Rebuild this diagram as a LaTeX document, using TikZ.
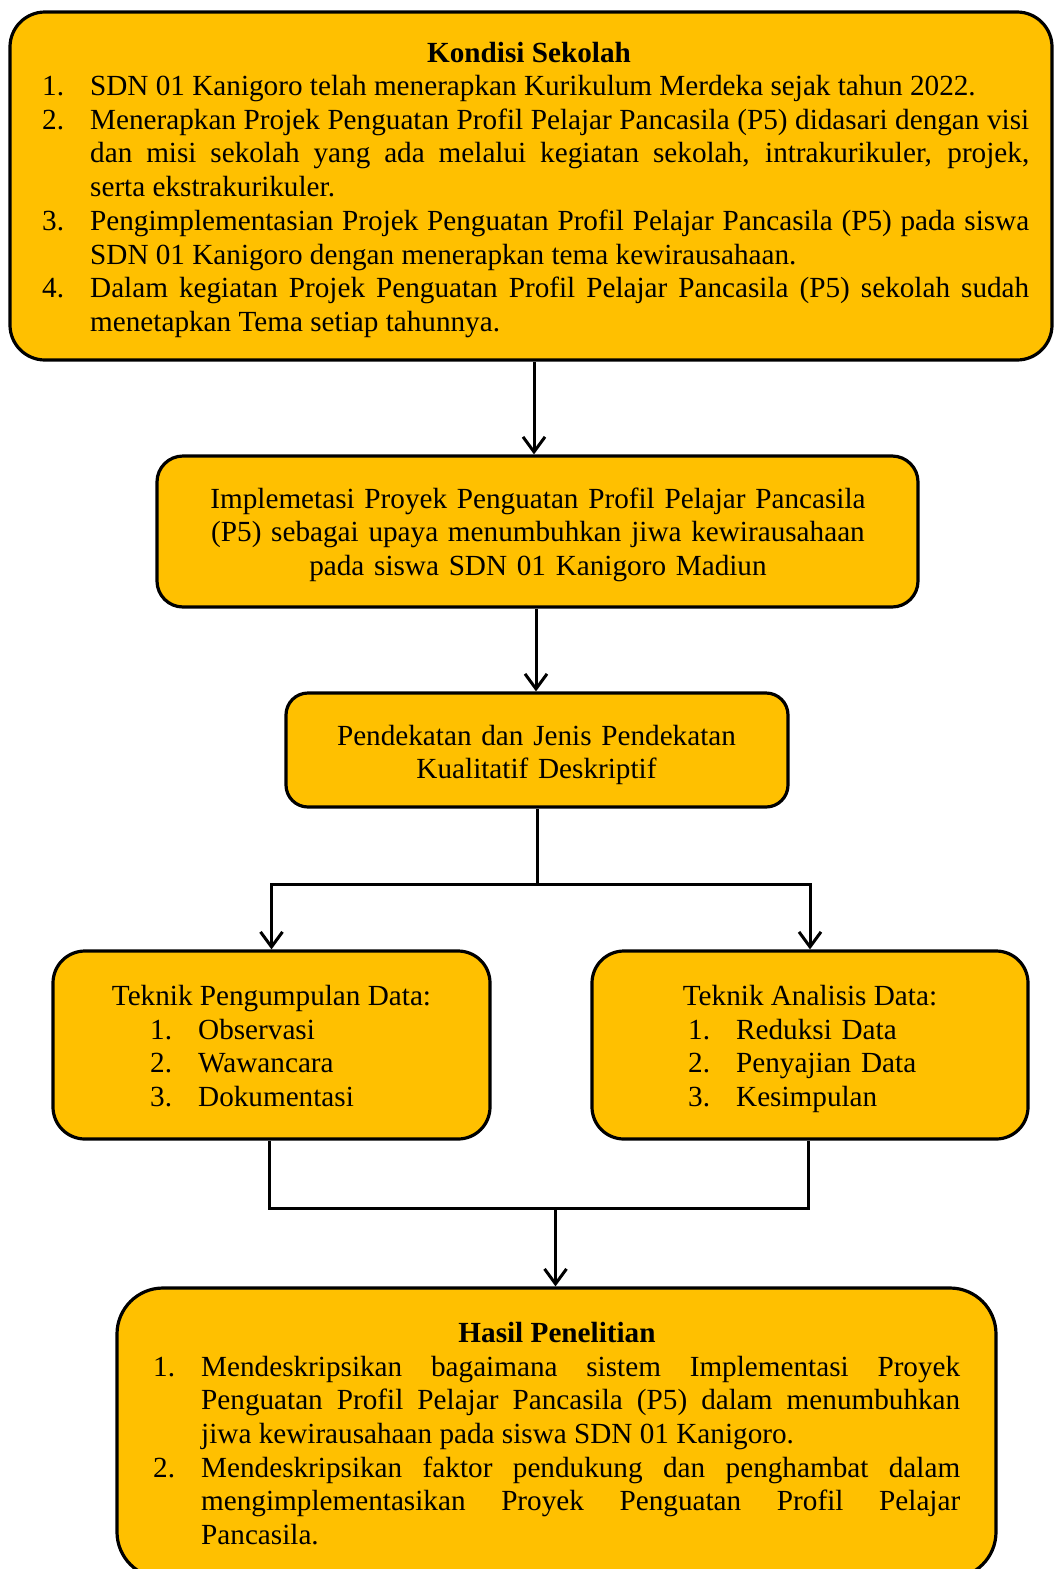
\documentclass[tikz,border=0pt]{standalone}
\usepackage{fontspec}
\setmainfont{Liberation Serif}
\usetikzlibrary{arrows.meta}
\definecolor{boxfill}{HTML}{FFC000}
\newcommand{\itm}[2]{\hangindent=48pt\hangafter=1\noindent\makebox[48pt][l]{#1}#2\par}
\hyphenpenalty=10000
\exhyphenpenalty=10000
\begin{document}
\begin{tikzpicture}[x=1pt,y=-1pt,
  box/.style={draw=black, line width=3.2pt, fill=boxfill, rounded corners=#1, inner sep=0pt},
  txt/.style={inner sep=0pt, font=\fontsize{29.2pt}{33.7pt}\selectfont},
  arr/.style={line width=3pt, -{Straight Barb[length=15pt, width=22pt]}},
  conn/.style={line width=3pt}]
\useasboundingbox (0,0) rectangle (1054,1569);
\clip (0,0) rectangle (1054,1569);

% boxes
\node[box=35, minimum width=1042pt, minimum height=348pt] (b1) at (531,186) {};
\node[box=26, minimum width=761pt, minimum height=151pt] (b2) at (537.5,531.5) {};
\node[box=22, minimum width=502pt, minimum height=114pt] (b3) at (537,750) {};
\node[box=32, minimum width=437pt, minimum height=188pt] (b4) at (271.5,1045) {};
\node[box=32, minimum width=436pt, minimum height=188pt] (b5) at (810,1045) {};
\node[box=46, minimum width=879pt, minimum height=290pt] (b6) at (556.5,1433) {};

% box 1 text
\node[txt, font=\fontsize{29.2pt}{33.7pt}\selectfont\bfseries, anchor=base] (t1) at (529,62) {Kondisi Sekolah};
\node[txt, text width=987pt, align=justify, anchor=base west] (l1) at (42,95.5) {%
\itm{1.}{SDN 01 Kanigoro telah menerapkan Kurikulum Merdeka sejak tahun 2022.}%
\itm{2.}{Menerapkan Projek Penguatan Profil Pelajar Pancasila (P5) didasari dengan visi \linebreak dan misi sekolah yang ada melalui kegiatan sekolah, intrakurikuler, projek, \linebreak serta ekstrakurikuler.}%
\itm{3.}{Pengimplementasian Projek Penguatan Profil Pelajar Pancasila (P5) pada siswa \linebreak SDN 01 Kanigoro dengan menerapkan tema kewirausahaan.}%
\itm{4.}{Dalam kegiatan Projek Penguatan Profil Pelajar Pancasila (P5) sekolah sudah \linebreak menetapkan Tema setiap tahunnya.}};

% box 2 text
\node[txt, text width=740pt, align=center, anchor=base] (t2) at (538,508) {Implemetasi Proyek Penguatan Profil Pelajar Pancasila\\ (P5) sebagai upaya menumbuhkan jiwa kewirausahaan\\ pada siswa SDN 01 Kanigoro Madiun};

% box 3 text
\node[txt, text width=480pt, align=center, anchor=base] (t3) at (536.5,745) {Pendekatan dan Jenis Pendekatan\\ Kualitatif Deskriptif};

% box 4 text
\node[txt, anchor=base] (t4) at (271.5,1005) {Teknik Pengumpulan Data:};
\node[txt, text width=300pt, align=left, anchor=base west] (l4) at (150,1039) {%
\itm{1.}{Observasi}\itm{2.}{Wawancara}\itm{3.}{Dokumentasi}};

% box 5 text
\node[txt, anchor=base] (t5) at (810,1005) {Teknik Analisis Data:};
\node[txt, text width=300pt, align=left, anchor=base west] (l5) at (688,1039) {%
\itm{1.}{Reduksi Data}\itm{2.}{Penyajian Data}\itm{3.}{Kesimpulan}};

% box 6 text
\node[txt, font=\fontsize{29.2pt}{33.7pt}\selectfont\bfseries, anchor=base] (t6) at (557,1342) {Hasil Penelitian};
\node[txt, text width=807pt, align=justify, anchor=base west] (l6) at (153,1376) {%
\itm{1.}{Mendeskripsikan bagaimana sistem Implementasi Proyek \linebreak Penguatan Profil Pelajar Pancasila (P5) dalam menumbuhkan \linebreak jiwa kewirausahaan pada siswa SDN 01 Kanigoro.}%
\itm{2.}{Mendeskripsikan faktor pendukung dan penghambat dalam \linebreak mengimplementasikan Proyek Penguatan Profil Pelajar \linebreak Pancasila.}};

% connectors
\draw[arr] ([xshift=3pt]b1.south) -- ([xshift=-3.5pt]b2.north);
\draw[arr] ([xshift=-1.5pt]b2.south) -- ([xshift=-1pt]b3.north);
\coordinate (j1) at (537,884);
\draw[conn] (b3.south) -- (j1);
\draw[arr] (j1) -| (b4.north);
\draw[arr] (j1) -| (b5.north);
\coordinate (j2) at (555.5,1208);
\draw[conn] ([xshift=-2.5pt]b4.south) |- (j2) -| ([xshift=-2pt]b5.south);
\draw[arr] (j2) -- (b6.north -| j2);
\end{tikzpicture}
\end{document}
